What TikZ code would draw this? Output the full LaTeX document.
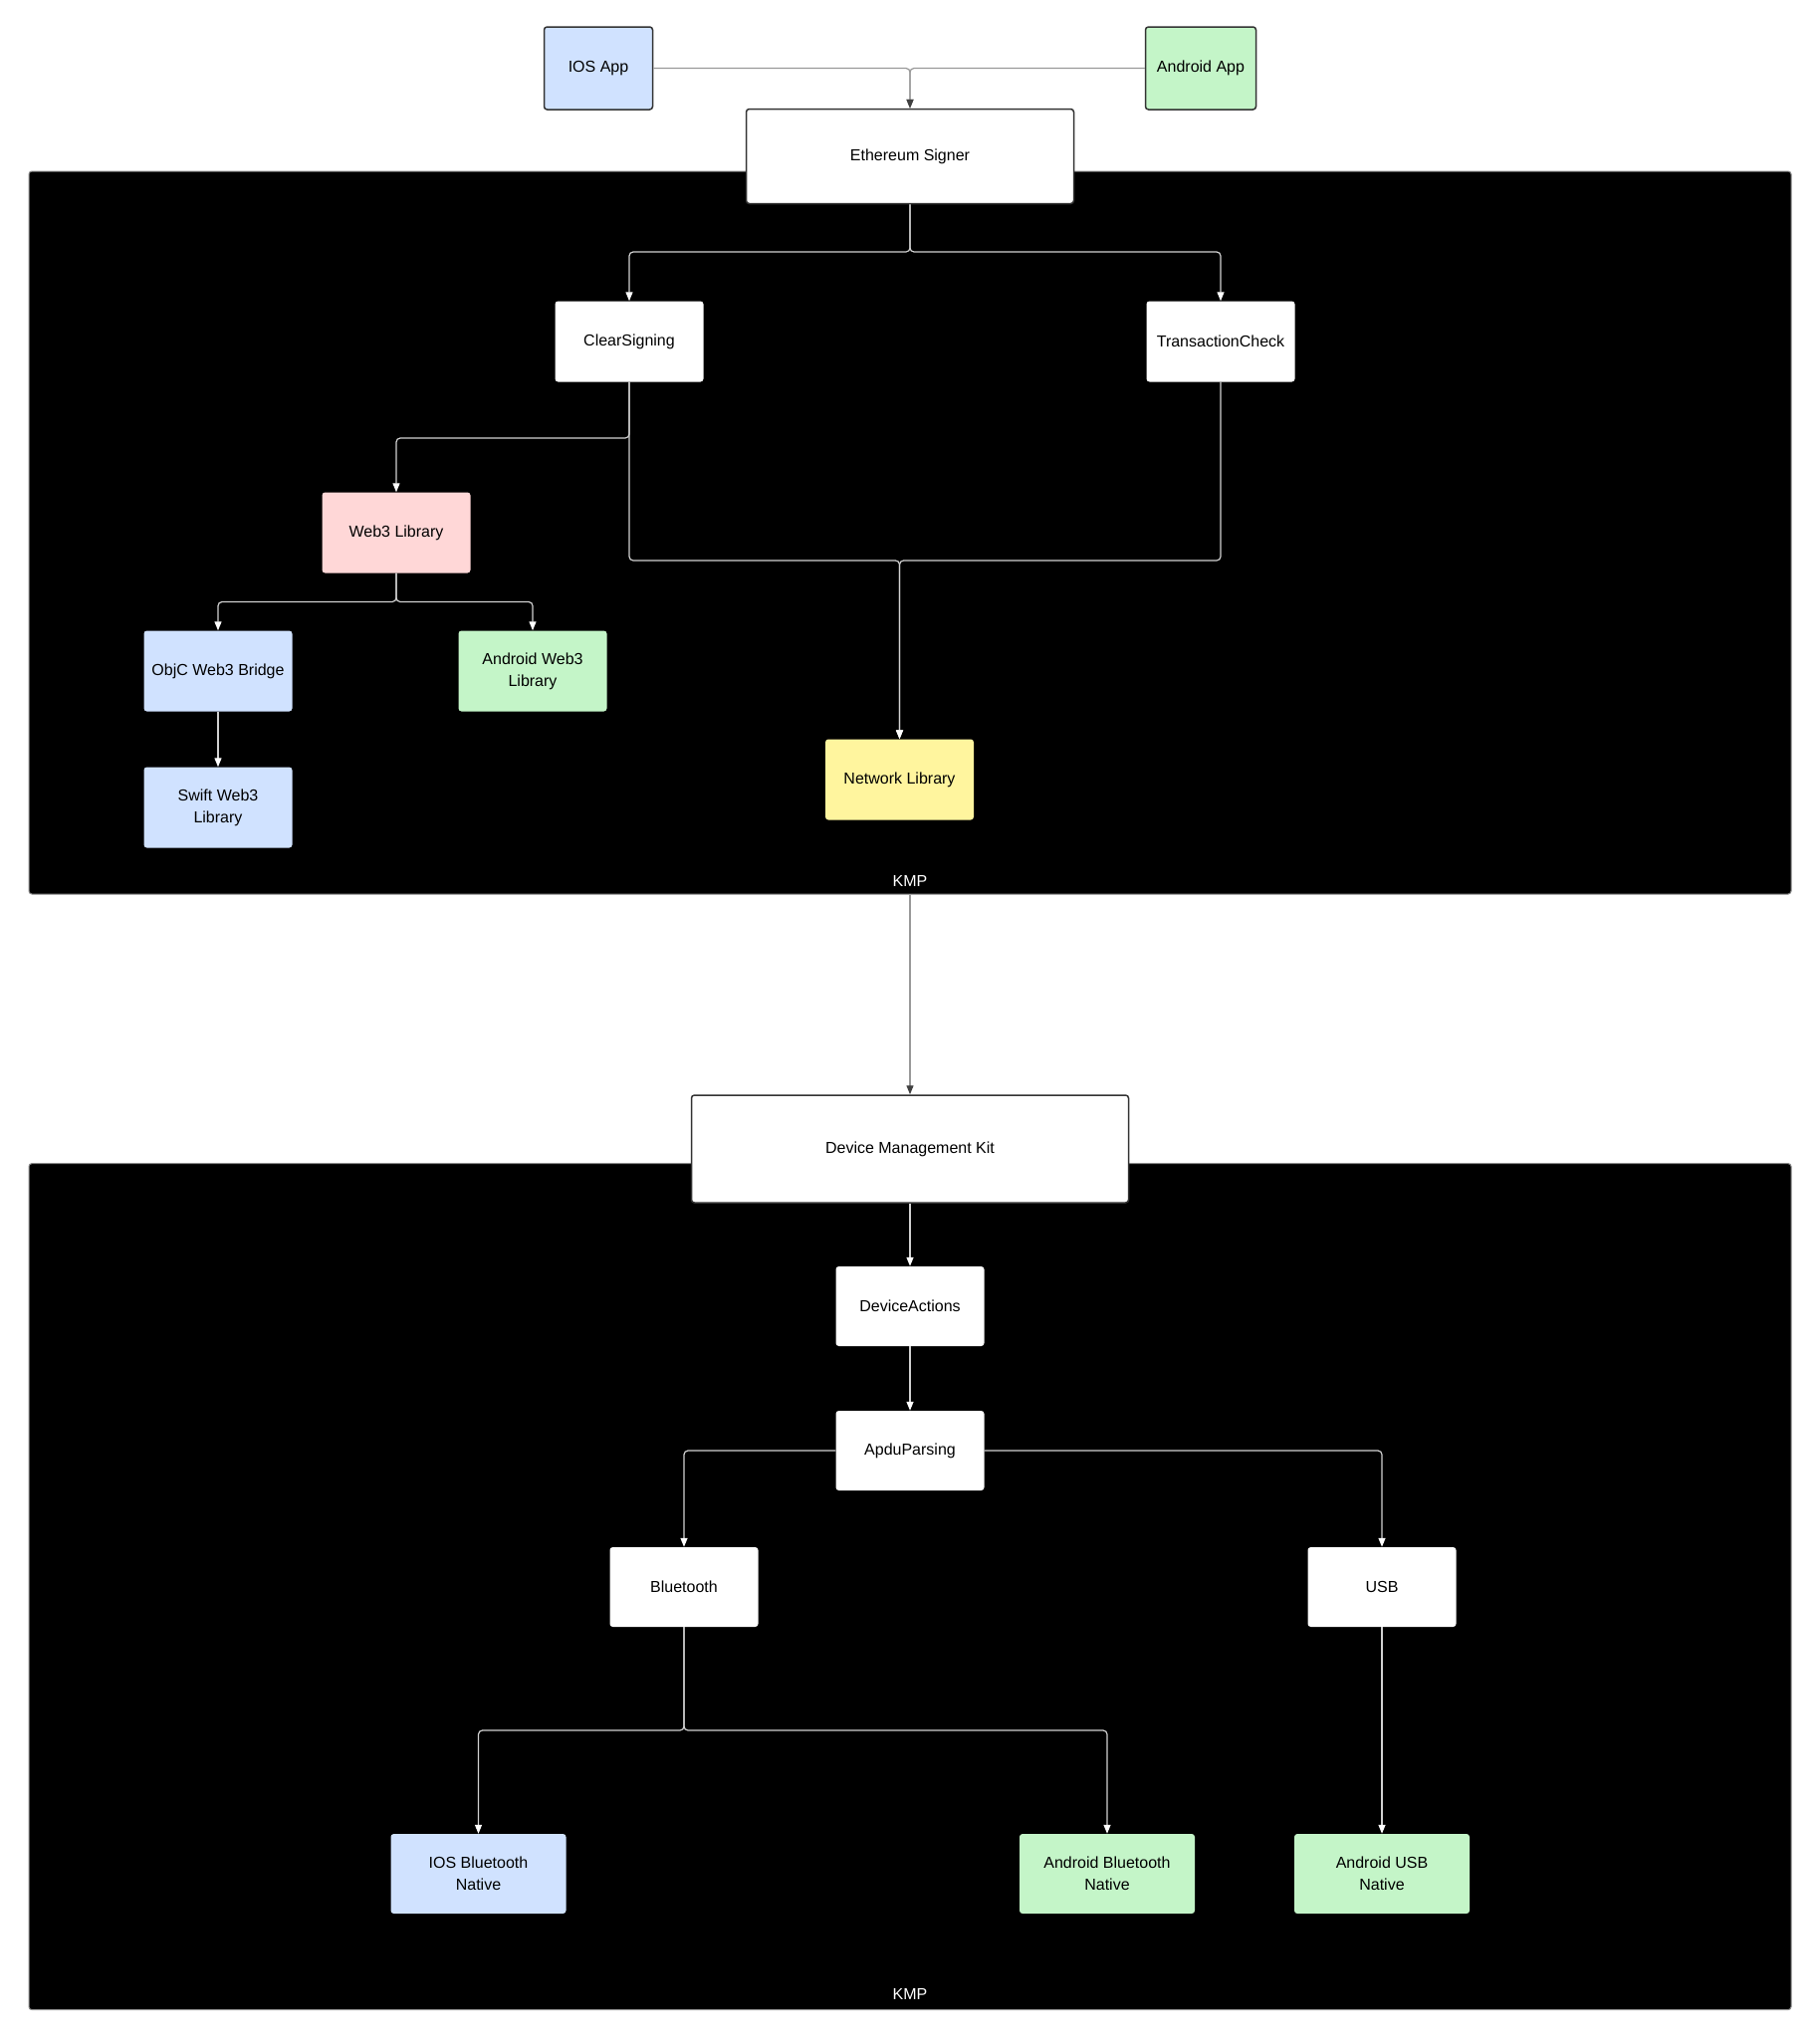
\documentclass[tikz,border=0pt]{standalone}
\usepackage{fontspec}
\setmainfont{Liberation Sans}
\usetikzlibrary{arrows.meta}
\definecolor{iosblue}{RGB}{208,226,255}
\definecolor{droidgreen}{RGB}{196,245,200}
\definecolor{webpink}{RGB}{255,215,215}
\definecolor{netyellow}{RGB}{255,245,158}
\begin{document}
\begin{tikzpicture}[x=1pt,y=-1pt,
    every node/.style={font=\fontsize{16}{22}\selectfont},
    box/.style={rectangle,rounded corners=3pt,align=center,inner sep=0pt,minimum width=149pt,minimum height=81pt},
    main box/.style={box,fill=white,draw=black!80,line width=1.5pt},
    lib box/.style={box,fill=white},
    ios box/.style={box,fill=iosblue},
    droid box/.style={box,fill=droidgreen},
    kmp box/.style={rectangle,rounded corners=3pt,fill=black,draw=black!45,line width=1pt,minimum width=1770pt},
    kmp label/.style={text=white},
    link/.style={draw=black!18,line width=1.2pt,rounded corners=4pt,-{Triangle[width=7pt,length=9pt,color=white]}},
    top link/.style={draw=black!40,line width=1.2pt,rounded corners=4pt,-{Triangle[width=7pt,length=9pt,color=black!75]}}]
    \useasboundingbox[fill=white] (0,0) rectangle (1828,2048);

    \node[kmp box,minimum height=726pt] at (914,535) (kmpone) {};
    \node[kmp label] at (914,885) (kmponetxt) {KMP};
    \node[kmp box,minimum height=850pt] at (914,1593.6) (kmptwo) {};
    \node[kmp label] at (914,2003) (kmptwotxt) {KMP};

    \node[main box,fill=iosblue,minimum width=109pt,minimum height=83pt] at (601,68.5) (iosapp) {IOS App};
    \node[main box,fill=droidgreen,minimum width=111pt,minimum height=83pt] at (1206,68.5) (droidapp) {Android App};
    \node[main box,minimum width=329pt,minimum height=95pt] at (914,157) (eth) {Ethereum Signer};
    \node[lib box] at (632,343) (clear) {ClearSigning};
    \node[lib box] at (1226,343) (txcheck) {TransactionCheck};
    \node[box,fill=webpink] at (398,535) (web3) {Web3 Library};
    \node[ios box] at (219,674) (objc) {ObjC Web3 Bridge};
    \node[droid box] at (535,674) (droidweb3) {Android Web3\\Library};
    \node[ios box] at (219,811) (swift) {Swift Web3\\Library};
    \node[box,fill=netyellow] at (903.5,783) (net) {Network Library};

    \node[main box,minimum width=439pt,minimum height=108pt] at (914,1154) (dmk) {Device Management Kit};
    \node[lib box,minimum height=80pt] at (914,1312) (actions) {DeviceActions};
    \node[lib box,minimum height=80pt] at (914,1457) (apdu) {ApduParsing};
    \node[lib box,minimum height=80pt] at (687,1594) (bt) {Bluetooth};
    \node[lib box,minimum height=80pt] at (1388,1594) (usb) {USB};
    \node[ios box,minimum width=176pt,minimum height=80pt] at (480.5,1882) (iosbt) {IOS Bluetooth\\Native};
    \node[droid box,minimum width=176pt,minimum height=80pt] at (1112,1882) (droidbt) {Android Bluetooth\\Native};
    \node[droid box,minimum width=176pt,minimum height=80pt] at (1388,1882) (droidusb) {Android USB\\Native};

    \coordinate (jeth) at (914,253);
    \coordinate (jweb) at (632,440);
    \coordinate (jnet) at (903.5,563);
    \coordinate (jw3) at (398,604.5);
    \coordinate (jbt) at (687,1738);

    \draw[top link] (iosapp.east) -| (eth.north);
    \draw[top link] (droidapp.west) -| (eth.north);
    \draw[link] (eth.south) -- (jeth) -| (clear.north);
    \draw[link] (eth.south) -- (jeth) -| (txcheck.north);
    \draw[link] (clear.south) -- (jweb) -| (web3.north);
    \draw[link] (clear.south) |- (jnet) -- (net.north);
    \draw[link] (txcheck.south) |- (jnet) -- (net.north);
    \draw[link] (web3.south) -- (jw3) -| (objc.north);
    \draw[link] (web3.south) -- (jw3) -| (droidweb3.north);
    \draw[link] (objc.south) -- (swift.north);
    \draw[top link] (kmpone.south) -- (dmk.north);
    \draw[link] (dmk.south) -- (actions.north);
    \draw[link] (actions.south) -- (apdu.north);
    \draw[link] (apdu.west) -| (bt.north);
    \draw[link] (apdu.east) -| (usb.north);
    \draw[link] (bt.south) -- (jbt) -| (iosbt.north);
    \draw[link] (bt.south) -- (jbt) -| (droidbt.north);
    \draw[link] (usb.south) -- (droidusb.north);
\end{tikzpicture}
\end{document}
